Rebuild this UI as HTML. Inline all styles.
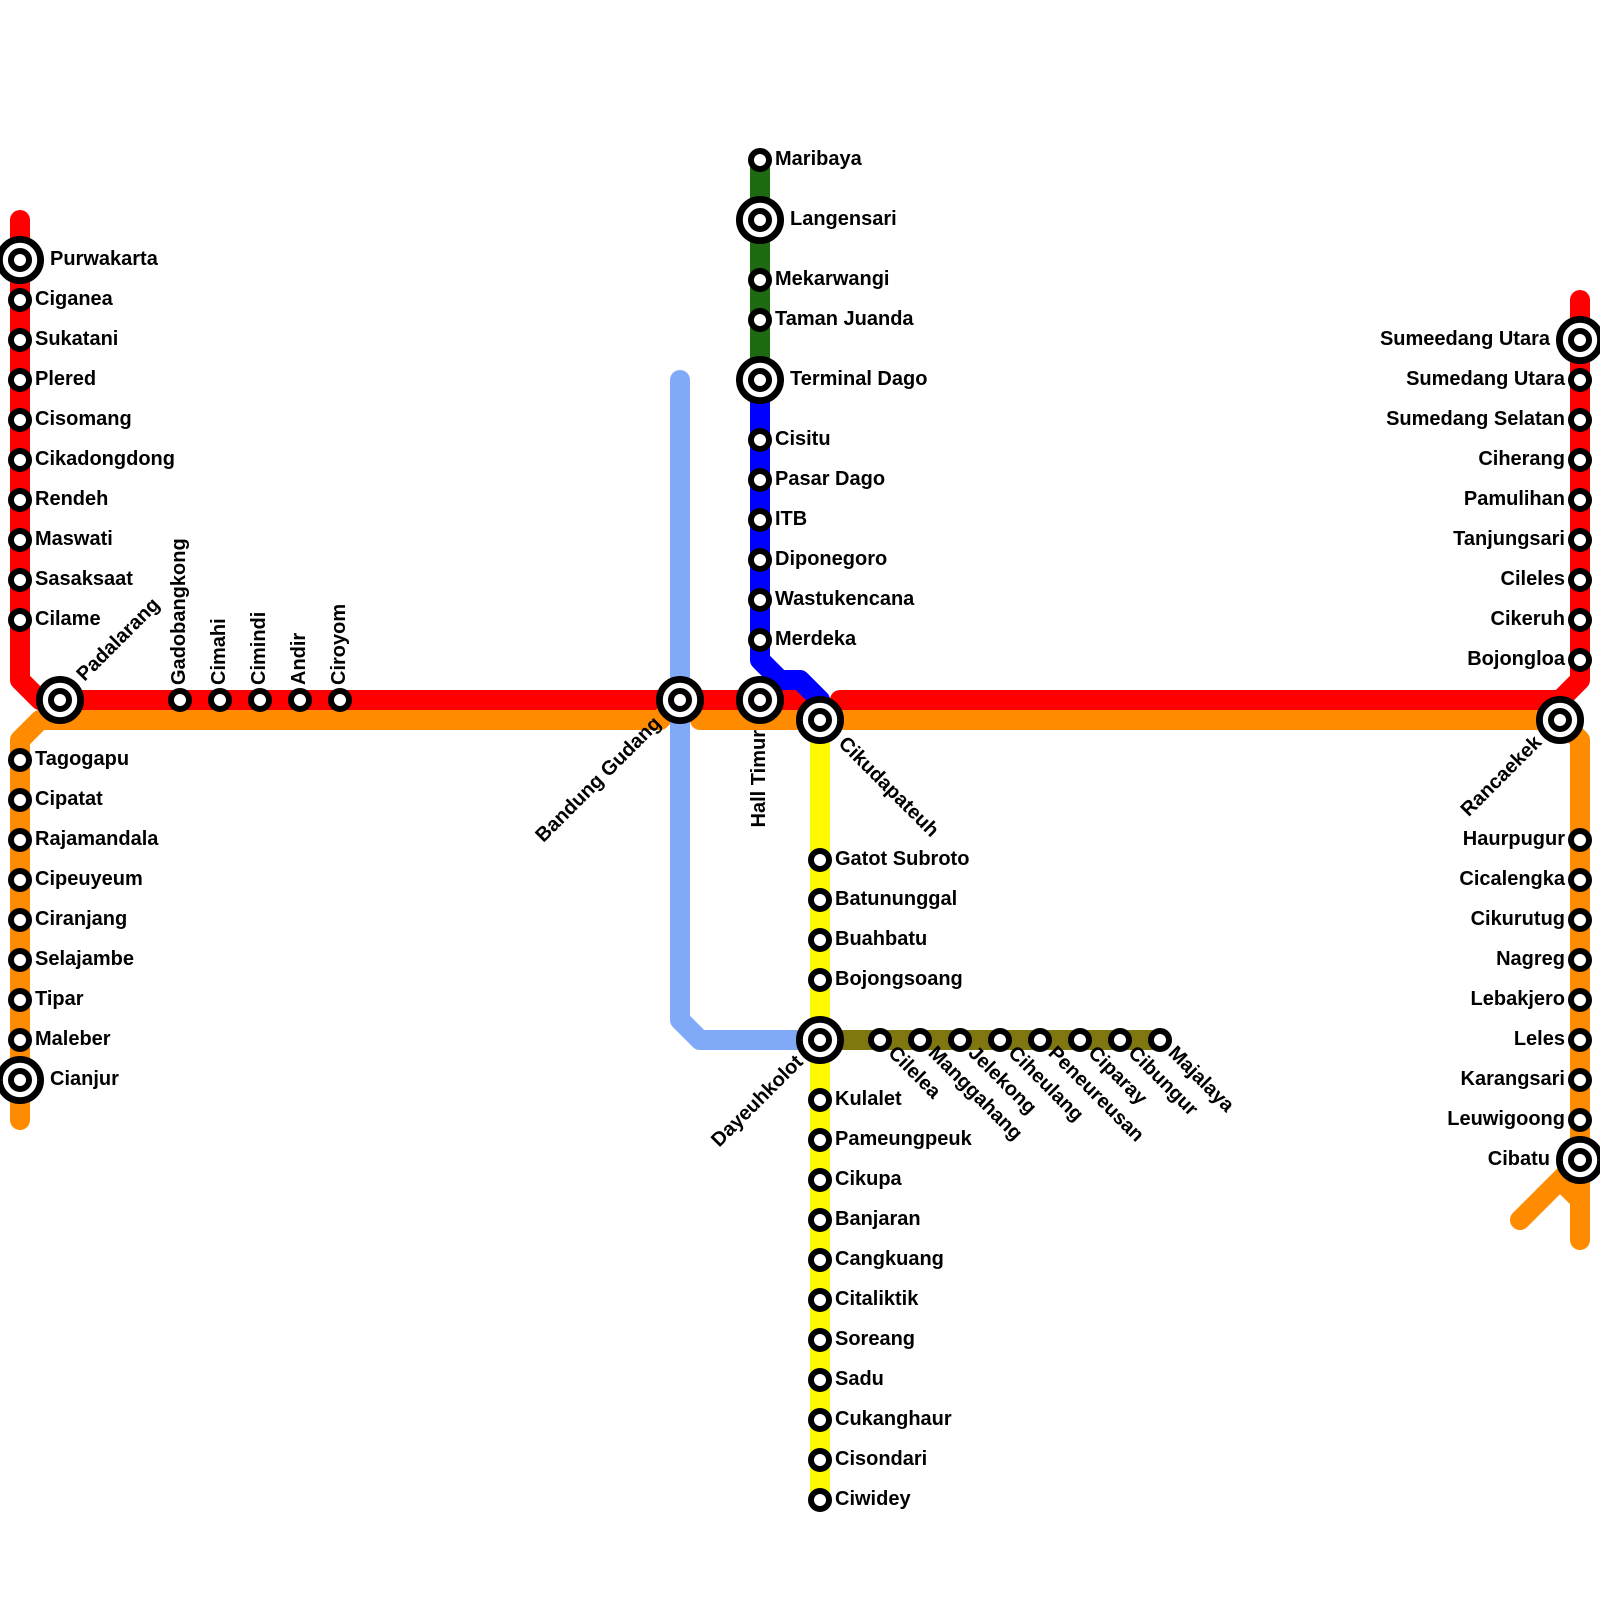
<!DOCTYPE html>
<html><head><meta charset="utf-8"><style>
html,body{margin:0;padding:0;background:#fff}
svg{display:block}
text{font-family:"Liberation Sans",sans-serif;font-weight:bold;font-size:20px;fill:#000}
.l{fill:none;stroke-width:20;stroke-linecap:round;stroke-linejoin:round}
.s{fill:#fff;stroke:#000;stroke-width:6}
.o{fill:#fff;stroke:#000;stroke-width:6.8}
.e{text-anchor:end}
</style></head><body>
<svg width="1600" height="1600" viewBox="0 0 1600 1600" xmlns="http://www.w3.org/2000/svg">
<rect width="1600" height="1600" fill="#fff"/>
<path class="l" stroke="#ff0000" d="M20 220V680L40 700H800L820 720"/>
<path class="l" stroke="#ff0000" d="M840 700H1560L1580 680V300"/>
<path class="l" stroke="#ff8c00" d="M20 1120V740L40 720H660L680 700"/>
<path class="l" stroke="#ff8c00" d="M700 720H1560L1580 740V1240"/>
<path class="l" stroke="#ff8c00" d="M1580 1160L1520 1220M1560 1180L1580 1200"/>
<path class="l" stroke="#80aaf8" d="M680 380V1020L700 1040H820"/>
<path class="l" stroke="#fffa00" d="M820 720V1500"/>
<path class="l" stroke="#807710" d="M820 1040H1160"/>
<path class="l" stroke="#1e6a10" d="M760 160V380"/>
<path class="l" stroke="#0000ff" d="M760 380V660L780 680H800L820 700V720"/>
<g>
<circle class="s" cx="20" cy="300" r="9"/><circle class="s" cx="20" cy="340" r="9"/><circle class="s" cx="20" cy="380" r="9"/><circle class="s" cx="20" cy="420" r="9"/><circle class="s" cx="20" cy="460" r="9"/><circle class="s" cx="20" cy="500" r="9"/><circle class="s" cx="20" cy="540" r="9"/><circle class="s" cx="20" cy="580" r="9"/><circle class="s" cx="20" cy="620" r="9"/>
<circle class="s" cx="20" cy="760" r="9"/><circle class="s" cx="20" cy="800" r="9"/><circle class="s" cx="20" cy="840" r="9"/><circle class="s" cx="20" cy="880" r="9"/><circle class="s" cx="20" cy="920" r="9"/><circle class="s" cx="20" cy="960" r="9"/><circle class="s" cx="20" cy="1000" r="9"/><circle class="s" cx="20" cy="1040" r="9"/>
<circle class="s" cx="180" cy="700" r="9"/><circle class="s" cx="220" cy="700" r="9"/><circle class="s" cx="260" cy="700" r="9"/><circle class="s" cx="300" cy="700" r="9"/><circle class="s" cx="340" cy="700" r="9"/>
<circle class="s" cx="760" cy="160" r="9"/><circle class="s" cx="760" cy="280" r="9"/><circle class="s" cx="760" cy="320" r="9"/><circle class="s" cx="760" cy="440" r="9"/><circle class="s" cx="760" cy="480" r="9"/><circle class="s" cx="760" cy="520" r="9"/><circle class="s" cx="760" cy="560" r="9"/><circle class="s" cx="760" cy="600" r="9"/><circle class="s" cx="760" cy="640" r="9"/>
<circle class="s" cx="820" cy="860" r="9"/><circle class="s" cx="820" cy="900" r="9"/><circle class="s" cx="820" cy="940" r="9"/><circle class="s" cx="820" cy="980" r="9"/>
<circle class="s" cx="820" cy="1100" r="9"/><circle class="s" cx="820" cy="1140" r="9"/><circle class="s" cx="820" cy="1180" r="9"/><circle class="s" cx="820" cy="1220" r="9"/><circle class="s" cx="820" cy="1260" r="9"/><circle class="s" cx="820" cy="1300" r="9"/><circle class="s" cx="820" cy="1340" r="9"/><circle class="s" cx="820" cy="1380" r="9"/><circle class="s" cx="820" cy="1420" r="9"/><circle class="s" cx="820" cy="1460" r="9"/><circle class="s" cx="820" cy="1500" r="9"/>
<circle class="s" cx="880" cy="1040" r="9"/><circle class="s" cx="920" cy="1040" r="9"/><circle class="s" cx="960" cy="1040" r="9"/><circle class="s" cx="1000" cy="1040" r="9"/><circle class="s" cx="1040" cy="1040" r="9"/><circle class="s" cx="1080" cy="1040" r="9"/><circle class="s" cx="1120" cy="1040" r="9"/><circle class="s" cx="1160" cy="1040" r="9"/>
<circle class="s" cx="1580" cy="380" r="9"/><circle class="s" cx="1580" cy="420" r="9"/><circle class="s" cx="1580" cy="460" r="9"/><circle class="s" cx="1580" cy="500" r="9"/><circle class="s" cx="1580" cy="540" r="9"/><circle class="s" cx="1580" cy="580" r="9"/><circle class="s" cx="1580" cy="620" r="9"/><circle class="s" cx="1580" cy="660" r="9"/>
<circle class="s" cx="1580" cy="840" r="9"/><circle class="s" cx="1580" cy="880" r="9"/><circle class="s" cx="1580" cy="920" r="9"/><circle class="s" cx="1580" cy="960" r="9"/><circle class="s" cx="1580" cy="1000" r="9"/><circle class="s" cx="1580" cy="1040" r="9"/><circle class="s" cx="1580" cy="1080" r="9"/><circle class="s" cx="1580" cy="1120" r="9"/>
</g>
<g>
<circle class="o" cx="20" cy="260" r="20.6"/><circle class="s" cx="20" cy="260" r="9"/>
<circle class="o" cx="20" cy="1080" r="20.6"/><circle class="s" cx="20" cy="1080" r="9"/>
<circle class="o" cx="60" cy="700" r="20.6"/><circle class="s" cx="60" cy="700" r="9"/>
<circle class="o" cx="680" cy="700" r="20.6"/><circle class="s" cx="680" cy="700" r="9"/>
<circle class="o" cx="760" cy="700" r="20.6"/><circle class="s" cx="760" cy="700" r="9"/>
<circle class="o" cx="820" cy="720" r="20.6"/><circle class="s" cx="820" cy="720" r="9"/>
<circle class="o" cx="760" cy="220" r="20.6"/><circle class="s" cx="760" cy="220" r="9"/>
<circle class="o" cx="760" cy="380" r="20.6"/><circle class="s" cx="760" cy="380" r="9"/>
<circle class="o" cx="820" cy="1040" r="20.6"/><circle class="s" cx="820" cy="1040" r="9"/>
<circle class="o" cx="1580" cy="340" r="20.6"/><circle class="s" cx="1580" cy="340" r="9"/>
<circle class="o" cx="1560" cy="720" r="20.6"/><circle class="s" cx="1560" cy="720" r="9"/>
<circle class="o" cx="1580" cy="1160" r="20.6"/><circle class="s" cx="1580" cy="1160" r="9"/>
</g>
<g>
<text x="50" y="265">Purwakarta</text>
<text x="35" y="305">Ciganea</text><text x="35" y="345">Sukatani</text><text x="35" y="385">Plered</text><text x="35" y="425">Cisomang</text><text x="35" y="465">Cikadongdong</text><text x="35" y="505">Rendeh</text><text x="35" y="545">Maswati</text><text x="35" y="585">Sasaksaat</text><text x="35" y="625">Cilame</text>
<text x="35" y="765">Tagogapu</text><text x="35" y="805">Cipatat</text><text x="35" y="845">Rajamandala</text><text x="35" y="885">Cipeuyeum</text><text x="35" y="925">Ciranjang</text><text x="35" y="965">Selajambe</text><text x="35" y="1005">Tipar</text><text x="35" y="1045">Maleber</text>
<text x="50" y="1085">Cianjur</text>
<text transform="translate(84.5 682) rotate(-45)">Padalarang</text>
<text transform="translate(185 685) rotate(-90)">Gadobangkong</text>
<text transform="translate(225 685) rotate(-90)">Cimahi</text>
<text transform="translate(265 685) rotate(-90)">Cimindi</text>
<text transform="translate(305 685) rotate(-90)">Andir</text>
<text transform="translate(345 685) rotate(-90)">Ciroyom</text>
<text class="e" transform="translate(662 724.5) rotate(-45)">Bandung Gudang</text>
<text class="e" transform="translate(765 730) rotate(-90)">Hall Timur</text>
<text transform="translate(837.5 744.5) rotate(45)">Cikudapateuh</text>
<text x="775" y="165">Maribaya</text>
<text x="790" y="225">Langensari</text>
<text x="775" y="285">Mekarwangi</text>
<text x="775" y="325">Taman Juanda</text>
<text x="790" y="385">Terminal Dago</text>
<text x="775" y="445">Cisitu</text><text x="775" y="485">Pasar Dago</text><text x="775" y="525">ITB</text><text x="775" y="565">Diponegoro</text><text x="775" y="605">Wastukencana</text><text x="775" y="645">Merdeka</text>
<text x="835" y="865">Gatot Subroto</text><text x="835" y="905">Batununggal</text><text x="835" y="945">Buahbatu</text><text x="835" y="985">Bojongsoang</text>
<text class="e" transform="translate(804 1063) rotate(-45)">Dayeuhkolot</text>
<text x="835" y="1105">Kulalet</text><text x="835" y="1145">Pameungpeuk</text><text x="835" y="1185">Cikupa</text><text x="835" y="1225">Banjaran</text><text x="835" y="1265">Cangkuang</text><text x="835" y="1305">Citaliktik</text><text x="835" y="1345">Soreang</text><text x="835" y="1385">Sadu</text><text x="835" y="1425">Cukanghaur</text><text x="835" y="1465">Cisondari</text><text x="835" y="1505">Ciwidey</text>
<text transform="translate(887.3 1054) rotate(45)">Cilelea</text>
<text transform="translate(927.3 1054) rotate(45)">Manggahang</text>
<text transform="translate(967.3 1054) rotate(45)">Jelekong</text>
<text transform="translate(1007.3 1054) rotate(45)">Ciheulang</text>
<text transform="translate(1047.3 1054) rotate(45)">Peneureusan</text>
<text transform="translate(1087.3 1054) rotate(45)">Ciparay</text>
<text transform="translate(1127.3 1054) rotate(45)">Cibungur</text>
<text transform="translate(1167.3 1054) rotate(45)">Majalaya</text>
<text class="e" x="1550" y="345">Sumeedang Utara</text>
<text class="e" x="1565" y="385">Sumedang Utara</text><text class="e" x="1565" y="425">Sumedang Selatan</text><text class="e" x="1565" y="465">Ciherang</text><text class="e" x="1565" y="505">Pamulihan</text><text class="e" x="1565" y="545">Tanjungsari</text><text class="e" x="1565" y="585">Cileles</text><text class="e" x="1565" y="625">Cikeruh</text><text class="e" x="1565" y="665">Bojongloa</text>
<text class="e" transform="translate(1542.6 743.4) rotate(-45)">Rancaekek</text>
<text class="e" x="1565" y="845">Haurpugur</text><text class="e" x="1565" y="885">Cicalengka</text><text class="e" x="1565" y="925">Cikurutug</text><text class="e" x="1565" y="965">Nagreg</text><text class="e" x="1565" y="1005">Lebakjero</text><text class="e" x="1565" y="1045">Leles</text><text class="e" x="1565" y="1085">Karangsari</text><text class="e" x="1565" y="1125">Leuwigoong</text>
<text class="e" x="1550" y="1165">Cibatu</text>
</g>
</svg>
</body></html>
